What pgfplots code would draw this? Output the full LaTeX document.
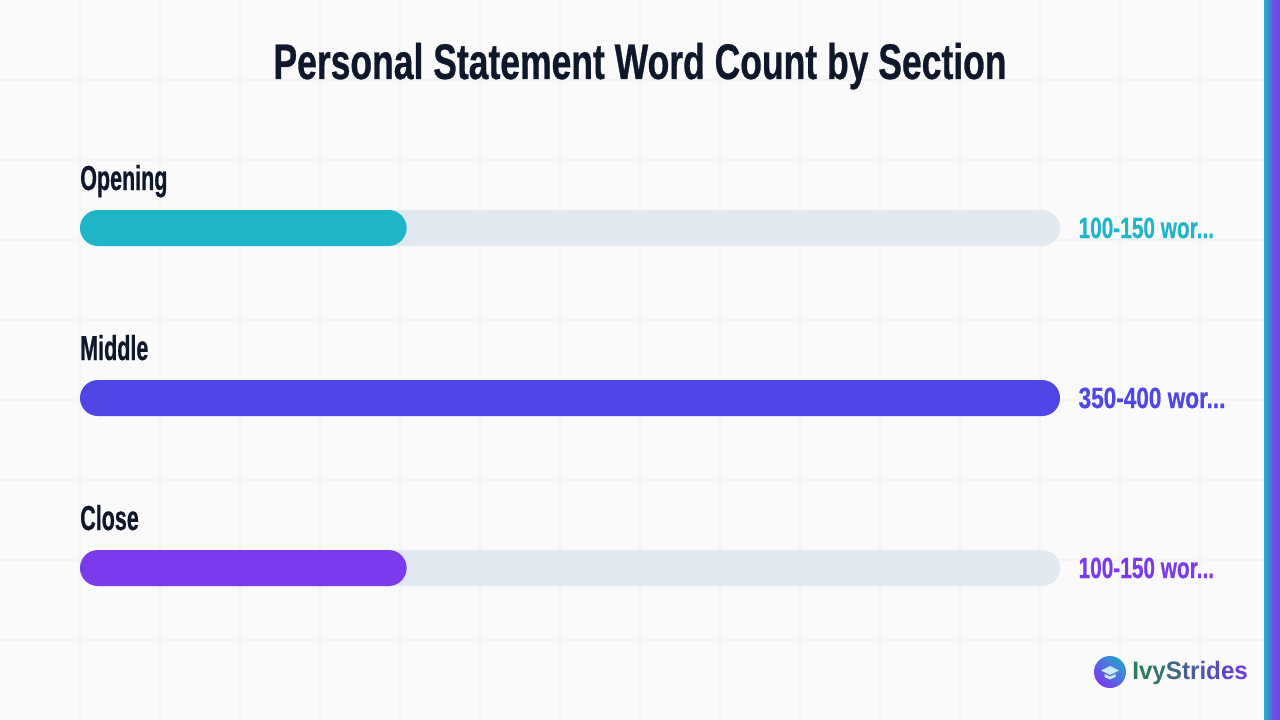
\documentclass[border=0pt]{standalone}
\usepackage{fontspec}
\usepackage{pgfplots}
\pgfplotsset{compat=1.18}
\setmainfont{Liberation Sans}
\newfontfamily\condtitle[FakeStretch=0.71,FakeBold=0.6]{Liberation Sans Bold}
\newfontfamily\condcat[FakeStretch=0.62,FakeBold=0.6]{Liberation Sans Bold}
\newfontfamily\condval[FakeStretch=0.71,FakeBold=0.5]{Liberation Sans Bold}
\newfontfamily\condvalwide[FakeStretch=0.77,FakeBold=0.5]{Liberation Sans Bold}
\newfontfamily\logofont[FakeStretch=0.96]{Liberation Sans Bold}
\definecolor{ink}{HTML}{0F172A}
\definecolor{track}{HTML}{E2E8F0}
\definecolor{teal}{HTML}{1FB6C9}
\definecolor{indigo}{HTML}{4F46E5}
\definecolor{violet}{HTML}{7C3AED}
\definecolor{bgc}{HTML}{FAFAFA}
\definecolor{gridc}{HTML}{F4F4F5}
\begin{document}
\begin{tikzpicture}
\useasboundingbox (0,0) rectangle (960pt,540pt);
% page layer, in pixels of the 1280x720 frame
\begin{axis}[
    at={(0,0)}, anchor=south west,
    scale only axis, width=960pt, height=540pt,
    xmin=0, xmax=1280, ymin=0, ymax=720, y dir=reverse,
    axis line style={draw=none},
    major tick length=0pt,
    xtick={80,160,...,1200}, ytick={80,160,...,640},
    xticklabels={}, yticklabels={},
    grid=major,
    grid style={gridc, line width=1.1pt},
    axis background/.style={fill=bgc},
    axis on top=false,
]
\fill[left color=teal, right color=violet, middle color=violet!70!teal]
    (axis cs:1264,0) rectangle (axis cs:1280,720);
\node[font=\condtitle\fontsize{37.5}{40}\selectfont, text=ink, inner sep=0pt, anchor=base]
    at (axis cs:640,79) {Personal Statement Word Count by Section};
% logo
\shade[left color=teal!80!indigo, right color=violet, shading angle=-45]
    (axis cs:1110,672) circle[radius=12pt];
\fill[white!75!teal] (axis cs:1110,666) -- (axis cs:1119,670.5) -- (axis cs:1110,675)
    -- (axis cs:1101,670.5) -- cycle;
\fill[white!75!teal] (axis cs:1104.5,674) -- (axis cs:1110,676.5) -- (axis cs:1115.5,674)
    -- (axis cs:1115.5,677) -- (axis cs:1110,679.5) -- (axis cs:1104.5,677) -- cycle;
\node[font=\logofont\fontsize{18.9}{20}\selectfont, inner sep=0pt, anchor=base west]
    at (axis cs:1132,679) {\textcolor[HTML]{2A7F62}{I}\textcolor[HTML]{2F7A66}{v}\textcolor[HTML]{35746C}{y}\textcolor[HTML]{3F6A80}{S}\textcolor[HTML]{47628F}{t}\textcolor[HTML]{4A5E9A}{r}\textcolor[HTML]{4E5AA6}{i}\textcolor[HTML]{5650B5}{d}\textcolor[HTML]{6045C8}{e}\textcolor[HTML]{6B3ED6}{s}};
\end{axis}
% data layer: midpoint word count of each section, 375 words = full track
\begin{axis}[
    at={(0,0)}, anchor=south west,
    scale only axis, width=960pt, height=540pt,
    xmin=-30.61, xmax=459.18, ymin=-1.3412, ymax=2.8941, y dir=reverse,
    hide axis,
    xbar, bar shift=0pt, bar width=27pt,
    every axis plot/.append style={draw=none, rounded corners=13.5pt},
    clip=false,
]
\addplot[fill=track] coordinates {(375,0)};
\addplot[fill=track] coordinates {(375,1)};
\addplot[fill=track] coordinates {(375,2)};
\addplot[fill=teal] coordinates {(125,0)};
\addplot[fill=indigo] coordinates {(375,1)};
\addplot[fill=violet] coordinates {(125,2)};
\tikzset{cat/.style={font=\condcat\fontsize{26}{28}\selectfont, text=ink, anchor=base west, inner sep=0pt},
    val/.style={font=\condval\fontsize{22}{24}\selectfont, anchor=base west, inner sep=0pt}}
\node[cat] at (axis cs:0,-0.2235) {Opening};
\node[cat] at (axis cs:0,0.7765) {Middle};
\node[cat] at (axis cs:0,1.7765) {Close};
\node[val, text=teal] at (axis cs:382,0.059) {100-150 wor...};
\node[val, text=indigo, font=\condvalwide\fontsize{22}{24}\selectfont] at (axis cs:382,1.059) {350-400 wor...};
\node[val, text=violet] at (axis cs:382,2.059) {100-150 wor...};
\end{axis}
\end{tikzpicture}
\end{document}
